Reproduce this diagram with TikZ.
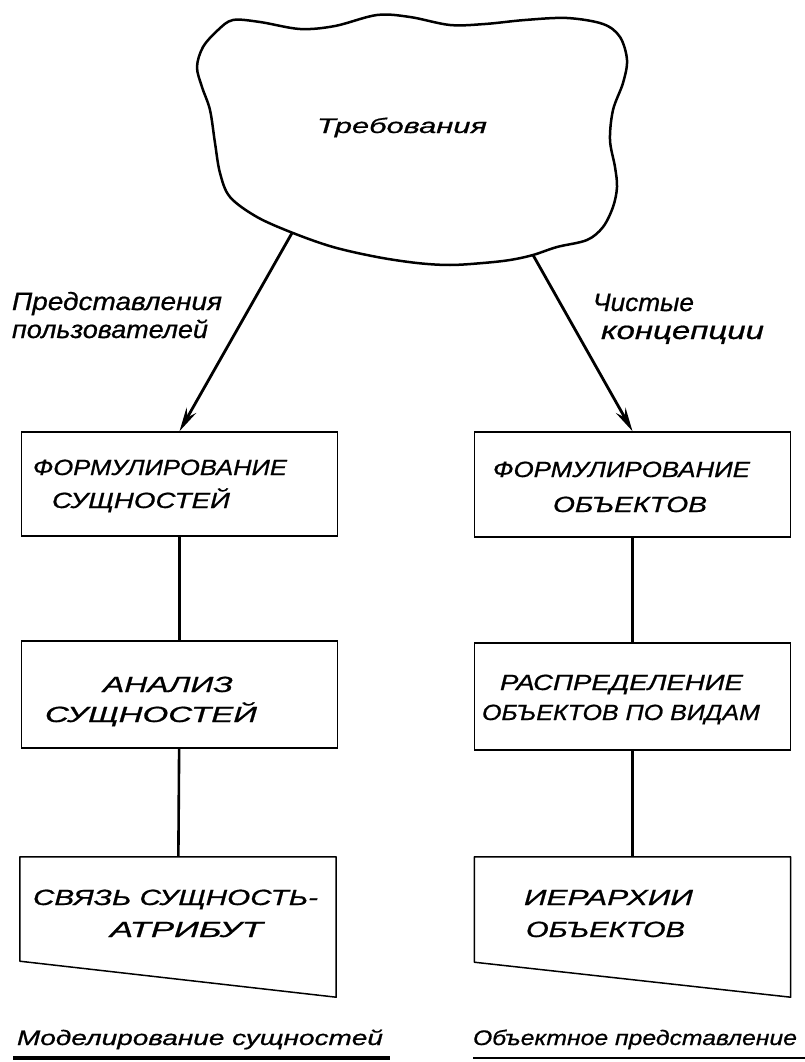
\documentclass[tikz,border=0pt]{standalone}
\usepackage{fontspec}
\usepackage{graphicx}
\setmainfont{Liberation Sans}
\newfontfamily\gostfont{Liberation Sans}[FakeBold=0.7]
\usetikzlibrary{arrows.meta,calc}

% set a line of text and stretch it horizontally to a given width (in pt)
\newsavebox\fitbox
\newcommand\fitto[2]{%
  \sbox\fitbox{#2}%
  \pgfmathsetmacro\fitratio{#1/\the\wd\fitbox}%
  \scalebox{\fitratio}[1]{\usebox\fitbox}}

\tikzset{
  box/.style={draw, line width=1.5pt, minimum width=316pt, inner sep=0pt},
  docbox/.style={inner sep=0pt, minimum width=316pt},
  docline/.style={line width=1.5pt, line join=round},
  link/.style={line width=2.6pt},
  flow/.style={line width=2.8pt, -{Stealth[length=24pt,width=11pt,inset=8pt]}},
  caps/.style={anchor=base, inner sep=0pt, font=\gostfont\fontsize{22}{26}\selectfont\itshape},
  hand/.style={anchor=base, inner sep=0pt, font=\gostfont\fontsize{25}{29}\selectfont\itshape},
  small/.style={anchor=base, inner sep=0pt, font=\gostfont\fontsize{21}{25}\selectfont\itshape},
  cloudline/.style={line width=2.5pt, line join=round},
}

\begin{document}
\begin{tikzpicture}[x=1pt, y=-1pt]
\useasboundingbox (0,0) rectangle (805,1062);

% requirements cloud
\draw[cloudline] plot[smooth cycle, tension=0.55] coordinates {
  (233,20) (260,22) (300,29) (335,26) (377,15) (410,17) (450,25) (485,24)
  (525,20) (567,18) (603,24) (620,37) (627,60) (623,83) (613,110) (610,140)
  (615,167) (617,187) (613,207) (603,227) (587,240) (557,247) (533,255)
  (510,260) (483,263) (450,265) (417,263) (377,257) (333,247) (293,233)
  (257,217) (230,197) (220,173) (215,143) (210,110) (202,87) (197,67)
  (203,47) (218,30)};
\node[small] (req) at (402,133) {\fitto{170}{Требования}};
\coordinate (cloudL) at (292,233);
\coordinate (cloudR) at (533,255);

% left column: entity modelling
\node[box, minimum height=104pt] (b1) at (179.5,484) {};
\node[box, minimum height=107pt] (b2) at (179.5,694.5) {};
\node[docbox, minimum height=104pt] (b3) at (178,909) {};
\draw[docline] (b3.north west) -- (b3.north east)
  -- ($(b3.south east)+(0,36)$) -- (b3.south west) -- cycle;

% right column: object view
\node[box, minimum height=105pt] (r1) at (632.5,484.5) {};
\node[box, minimum height=107pt] (r2) at (632.5,696.5) {};
\node[docbox, minimum height=105pt] (r3) at (632.5,909.5) {};
\draw[docline] (r3.north west) -- (r3.north east)
  -- ($(r3.south east)+(0,35)$) -- (r3.south west) -- cycle;

% box texts
\node[caps] (b1a) at (160,475) {\fitto{254}{ФОРМУЛИРОВАНИЕ}};
\node[caps] (b1b) at (141,508) {\fitto{178}{СУЩНОСТЕЙ}};
\node[caps] (b2a) at (168,692) {\fitto{130}{АНАЛИЗ}};
\node[caps] (b2b) at (151,722) {\fitto{212}{СУЩНОСТЕЙ}};
\node[caps] (b3a) at (175.5,905) {\fitto{285}{СВЯЗЬ СУЩНОСТЬ-}};
\node[caps] (b3b) at (186.5,937) {\fitto{153}{АТРИБУТ}};

\node[caps] (r1a) at (621.5,477) {\fitto{257}{ФОРМУЛИРОВАНИЕ}};
\node[caps] (r1b) at (630,512) {\fitto{154}{ОБЪЕКТОВ}};
\node[caps] (r2a) at (621.5,690) {\fitto{243}{РАСПРЕДЕЛЕНИЕ}};
\node[caps] (r2b) at (621,720) {\fitto{278}{ОБЪЕКТОВ ПО ВИДАМ}};
\node[caps] (r3a) at (608.5,905) {\fitto{169}{ИЕРАРХИИ}};
\node[caps] (r3b) at (605.5,937) {\fitto{159}{ОБЪЕКТОВ}};

% arrows from the cloud
\draw[flow] (cloudL) -- (b1.north);
\draw[flow] (cloudR) -- (r1.north);

% arrow labels
\node[hand] (pl1) at (117,310) {\fitto{210}{Представления}};
\node[hand] (pl2) at (110,338) {\fitto{196}{пользователей}};
\node[hand] (pc1) at (643.5,311) {\fitto{101}{Чистые}};
\node[hand] (pc2) at (682.5,339) {\fitto{163}{концепции}};

% connectors between steps
\draw[link] (b1) -- (b2);
\draw[link] (b2) -- (b3);
\draw[link] (r1) -- (r2);
\draw[link] (r2) -- (r3);

% column captions
\node[small] (capL) at (200,1045) {\fitto{366}{Моделирование сущностей}};
\node[small] (capR) at (635,1045) {\fitto{324}{Объектное представление}};
\coordinate (ulA) at (13,1058);
\coordinate (ulB) at (390,1058);
\coordinate (urA) at (473,1058);
\coordinate (urB) at (805,1058);
\draw[line width=3.5pt] (ulA) -- (ulB);
\draw[line width=2.2pt] (urA) -- (urB);
\end{tikzpicture}
\end{document}
